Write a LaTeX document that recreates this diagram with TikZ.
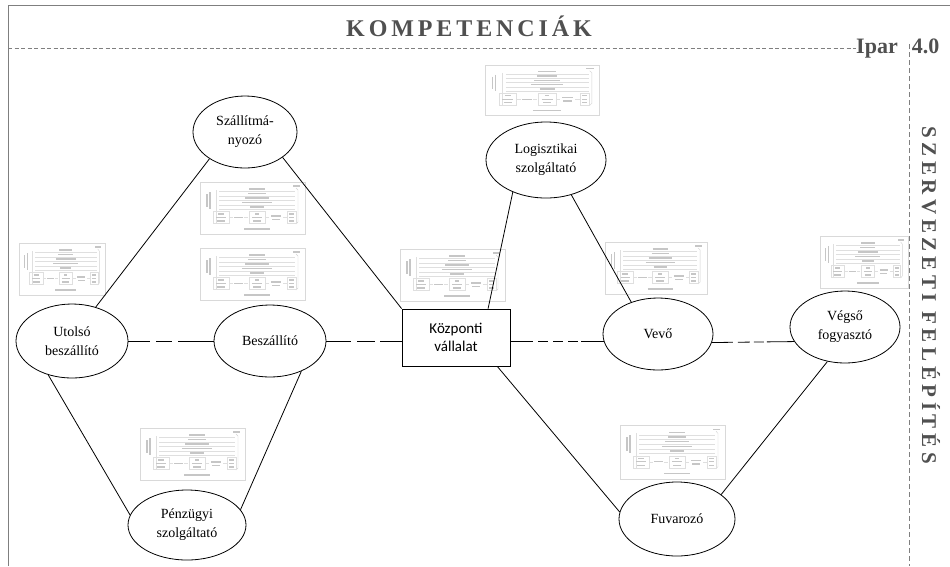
\documentclass[tikz,border=0pt]{standalone}
\usepackage{fontspec}
\setmainfont{Liberation Serif}
\newfontfamily\boxfont{Carlito}
\newfontfamily\plainbold{Liberation Serif Bold}
\usetikzlibrary{shapes.geometric,calc}
\definecolor{framegray}{HTML}{7F7F7F}
\definecolor{titlegray}{HTML}{505050}
\newcommand\tkern{\kern3.9pt}
\newcommand\vkern{\kern4.6pt}
\tikzset{
  ell/.style={ellipse, draw, line width=0.8pt, inner sep=0pt, align=center,
    font=\fontsize{14}{19}\selectfont},
  rectnode/.style={rectangle, draw, line width=0.8pt, align=center,
    font=\boxfont\fontsize{15}{18}\selectfont, minimum width=108pt, minimum height=57pt, inner sep=0pt},
  conn/.style={line width=0.8pt},
  frame/.style={framegray, line width=0.9pt},
  dashgray/.style={framegray, line width=0.7pt, dash pattern=on 4pt off 2.5pt},
  vdashgray/.style={framegray, line width=0.8pt, dash pattern=on 5pt off 3pt},
  titletext/.style={font=\plainbold\fontsize{24}{26}\selectfont, text=titlegray, inner sep=0pt},
  vtitletext/.style={font=\plainbold\fontsize{21}{24}\selectfont, text=titlegray, inner sep=0pt},
  ipartext/.style={font=\plainbold\fontsize{22}{24}\selectfont, text=titlegray, inner sep=0pt},
  thumbtxt/.style={gray!45, line width=1.1pt},
  thumbline/.style={gray!25, line width=0.35pt},
  thumb/.pic={
    \draw[gray!30, line width=0.5pt] (0,0) rectangle (105,52);
    \draw[thumbtxt] (93,4) -- (100,4);
    \foreach \yy/\hl in {7/8, 11.5/9, 16/12, 20.5/15, 25/7}
      \draw[thumbtxt] (57-\hl,\yy) -- (57+\hl,\yy);
    \foreach \yy in {9.3,13.8,18.3,22.8,27.3}
      \draw[thumbline] (19,\yy) -- (95,\yy);
    \draw[thumbtxt] (7,12) -- (7,25);
    \draw[thumbtxt] (10,10) -- (10,27);
    \draw[thumbline] (16,8) -- (16,42);
    \draw[gray!35, line width=0.4pt] (96,6) -- (98,8) -- (98,40) -- (96,42);
    % bottom row
    \draw[thumbline] (13,29.5) rectangle (29,41.5);
    \draw[thumbtxt] (18,32) -- (24,32); \draw[thumbtxt] (16,35.5) -- (26,35.5); \draw[thumbtxt] (17,39) -- (25,39);
    \draw[thumbline] (29,35.5) -- (33,35.5);
    \draw[thumbtxt] (34,35.5) -- (43,35.5);
    \draw[thumbline] (44,35.5) -- (48,35.5);
    \draw[thumbline] (49,29.5) rectangle (65,41.5);
    \draw[thumbtxt] (55,32) -- (59,32); \draw[thumbtxt] (52,35.5) -- (62,35.5); \draw[thumbtxt] (53,39) -- (61,39);
    \draw[thumbline] (65,35.5) -- (69,35.5);
    \draw[thumbtxt] (71,34) -- (81,34); \draw[thumbtxt] (72,37.5) -- (80,37.5);
    \draw[thumbline] (83,35.5) -- (87,35.5);
    \draw[thumbline] (87,29.5) rectangle (96,41.5);
    \draw[thumbtxt] (89,32) -- (94,32); \draw[thumbtxt] (89,35.5) -- (94,35.5); \draw[thumbtxt] (89,39) -- (94,39);
    \draw[thumbtxt] (44,47) -- (70,47);
  }
}
\begin{document}
\begin{tikzpicture}[x=1pt,y=-1pt]
\useasboundingbox (0,0) rectangle (950,566);
% frame
\coordinate (fbl) at (8,566);
\coordinate (ftl) at (8,5);
\coordinate (ftr) at (950,5);
\draw[frame] (fbl) -- (ftl) -- (ftr);
% titles
\node[titletext] (komp) at (469,26) {K\tkern O\tkern M\tkern P\tkern E\tkern T\tkern E\tkern N\tkern C\tkern I\tkern Á\tkern K};
\node[ipartext, anchor=base west] (ipar) at (856,53) {Ipar\kern14pt 4.0};
\coordinate (hd) at (8,48);
\draw[dashgray] (hd) -- (hd -| ipar.west);
\coordinate (vd) at (909,44);
\coordinate (vb) at (909,566);
\draw[vdashgray] (vd) -- (vb);
\node[vtitletext, rotate=-90] (szerv) at (931,295) {S\vkern Z\vkern E\vkern R\vkern V\vkern E\vkern Z\vkern E\vkern T\vkern I\vkern\kern5pt F\vkern E\vkern L\vkern É\vkern P\vkern Í\vkern T\vkern É\vkern S};
% thumbnails
\pic at (200,182) {thumb};
\pic at (200,248) {thumb};
\pic[xscale=0.82] at (19,243) {thumb};
\pic[xscale=1.09, yscale=0.96] at (485,65) {thumb};
\pic at (400,249) {thumb};
\pic[xscale=0.97] at (605,242) {thumb};
\pic[xscale=0.84] at (820,236) {thumb};
\pic at (140,428) {thumb};
\pic[yscale=1.04] at (620,425) {thumb};
% nodes
\node[ell, minimum width=104pt, minimum height=72pt] (szall) at (245,132) {Szállítmá-\\nyozó};
\node[ell, minimum width=120pt, minimum height=76pt] (logi) at (546,160) {Logisztikai\\szolgáltató};
\node[ell, minimum width=112pt, minimum height=74pt] (utolso) at (72,341) {Utolsó\\beszállító};
\node[ell, minimum width=112pt, minimum height=72pt] (besz) at (270,341) {Beszállító};
\node[rectnode] (kozp) at (456,337.5) {Központi\\vállalat};
\node[ell, minimum width=110pt, minimum height=72pt] (vevo) at (658,334) {Vevő};
\node[ell, minimum width=110pt, minimum height=72pt] (vegso) at (845,327) {Végső\\fogyasztó};
\node[ell, minimum width=118pt, minimum height=70pt] (penz) at (187,525) {Pénzügyi\\szolgáltató};
\node[ell, minimum width=116pt, minimum height=74pt] (fuv) at (677,519) {Fuvarozó};
% solid connectors
\draw[conn] (szall.217) -- (utolso.55);
\draw[conn] (szall.326) -- (kozp.north west);
\draw[conn] (logi.224) -- (kozp.42);
\draw[conn] (logi.306) -- (vevo.130);
\draw[conn] (utolso.235) -- (penz.170);
\draw[conn] (besz.316) -- (penz.16);
\draw[conn] (kozp.325) -- (fuv.173);
\draw[conn] (fuv.29) -- (vegso.243);
% broken connectors
\draw[conn, dash pattern=on 22pt off 6pt on 16pt off 6pt on 60pt] (utolso.east) -- (besz.west);
\draw[conn, dash pattern=on 25pt off 6pt on 18pt off 5pt on 60pt] (besz.east) -- (besz.east -| kozp.west);
\draw[conn, dash pattern=on 23pt off 5pt on 10pt off 5pt on 10pt off 5pt on 10pt off 3pt on 60pt] (vevo.188.5 -| kozp.east) -- (vevo.188.5);
\draw[conn, dash pattern=on 21pt off 5pt on 12pt off 4pt on 10pt off 3pt on 60pt] (vevo.351.5) -- (vegso.196.5);
\end{tikzpicture}
\end{document}
